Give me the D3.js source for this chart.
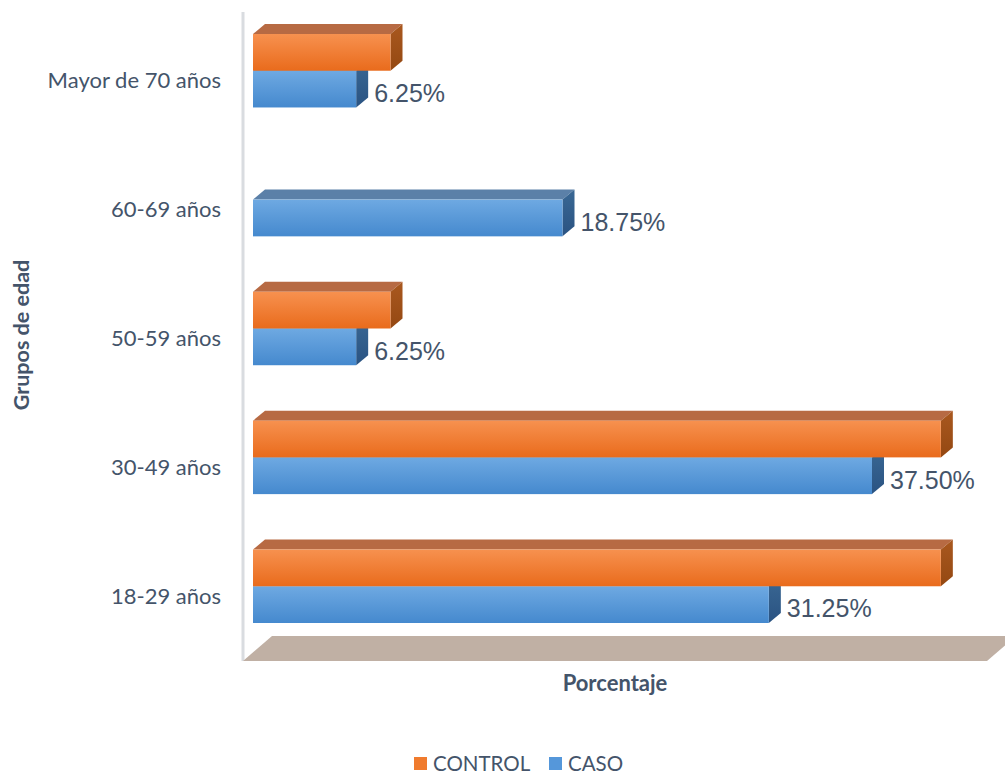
<!DOCTYPE html>
<html>
<head>
<meta charset="utf-8">
<script src="https://cdn.jsdelivr.net/npm/d3@7"></script>
<style>
  html, body { margin: 0; padding: 0; background: #fff; }
  svg { display: block; }
</style>
</head>
<body>
<svg id="chart" width="1005" height="775"></svg>
<script>
// ---- Data ----
const categories = ["Mayor de 70 años", "60-69 años", "50-59 años", "30-49 años", "18-29 años"];
const seriesNames = ["CONTROL", "CASO"];
const controlValues = [8.33, 0, 8.33, 41.67, 41.67];
const casoValues = [6.25, 18.75, 6.25, 37.50, 31.25];
const casoLabels = ["6.25%", "18.75%", "6.25%", "37.50%", "31.25%"];

const svg = d3.select("#chart");
const DX = 12, DY = 10;
const textColor = "#44546A";

const x = d3.scaleLinear().domain([0, 45]).range([253, 995.8]);
const y = d3.scaleBand().domain(categories).range([34, 623]).paddingInner(0.43).paddingOuter(0);
const ySub = d3.scaleBand().domain(seriesNames).range([0, y.bandwidth()]);

// gradients
const defs = svg.append("defs");
function grad(id, c1, c2, vertical = true) {
  const g = defs.append("linearGradient").attr("id", id)
    .attr("x1", 0).attr("y1", 0).attr("x2", vertical ? 0 : 1).attr("y2", vertical ? 1 : 0);
  g.append("stop").attr("offset", "0%").attr("stop-color", c1);
  g.append("stop").attr("offset", "100%").attr("stop-color", c2);
}
grad("gOrange", "#F7914F", "#E96B1C");
grad("gBlue", "#6EA9E2", "#4589CE");
grad("gOrangeSide", "#A9581F", "#944812");
grad("gBlueSide", "#3A6894", "#2A5382");

const styles = {
  CONTROL: { front: "url(#gOrange)", top: "#B76A43", side: "url(#gOrangeSide)" },
  CASO: { front: "url(#gBlue)", top: "#5B80A8", side: "url(#gBlueSide)" }
};

// wall line
svg.append("rect").attr("x", 241.5).attr("y", 12).attr("width", 3).attr("height", 649)
  .attr("fill", "#D9DCE0");

// floor
svg.append("polygon")
  .attr("points", [[243, 661], [272, 636], [1016, 636], [987, 661]].map(p => p.join(",")).join(" "))
  .attr("fill", "#C0B0A4");

// bars
const barsG = svg.append("g");
function drawBar(series, cat, v) {
  if (!(v > 0)) return;
  const st = styles[series];
  const x0 = x(0), x1 = x(v);
  const y0 = y(cat) + ySub(series), y1 = y0 + ySub.bandwidth();
  const g = barsG.append("g");
  g.append("polygon")
    .attr("points", [[x0, y0], [x0 + DX, y0 - DY], [x1 + DX, y0 - DY], [x1, y0]].map(p => p.join(",")).join(" "))
    .attr("fill", st.top);
  g.append("polygon")
    .attr("points", [[x1, y0], [x1 + DX, y0 - DY], [x1 + DX, y1 - DY], [x1, y1]].map(p => p.join(",")).join(" "))
    .attr("fill", st.side);
  g.append("rect").attr("x", x0).attr("y", y0).attr("width", x1 - x0).attr("height", y1 - y0)
    .attr("fill", st.front);
}
categories.forEach((c, i) => {
  drawBar("CASO", c, casoValues[i]);
  drawBar("CONTROL", c, controlValues[i]);
});

// value labels (CASO)
svg.append("g").selectAll("text").data(categories).join("text")
  .attr("x", (d, i) => x(casoValues[i]) + 18)
  .attr("y", d => y(d) + ySub("CASO") + ySub.bandwidth() / 2 + 4)
  .attr("dy", "0.35em")
  .attr("font-family", "'Liberation Sans', Arial, sans-serif")
  .attr("font-size", 25)
  .attr("fill", textColor)
  .text((d, i) => casoLabels[i]);

// category labels
svg.append("g").selectAll("text").data(categories).join("text")
  .attr("x", 221)
  .attr("y", d => y(d) + y.bandwidth() / 2 + 10)
  .attr("dy", "0.35em")
  .attr("text-anchor", "end")
  .attr("font-family", "Lato, sans-serif")
  .attr("font-size", 22)
  .attr("fill", textColor)
  .text(d => d);

// axis titles
svg.append("text").attr("x", 615).attr("y", 683).attr("dy", "0.35em")
  .attr("text-anchor", "middle").attr("font-family", "Lato, sans-serif")
  .attr("font-weight", "bold").attr("font-size", 22).attr("fill", textColor)
  .text("Porcentaje");
svg.append("text").attr("transform", "translate(21,335) rotate(-90)").attr("dy", "0.35em")
  .attr("text-anchor", "middle").attr("font-family", "Lato, sans-serif")
  .attr("font-weight", "bold").attr("font-size", 21.5).attr("fill", textColor)
  .text("Grupos de edad");

// legend
const legendItems = [
  { name: "CONTROL", color: "#F07B2E", x: 414 },
  { name: "CASO", color: "#5597DA", x: 549 }
];
const lg = svg.append("g").selectAll("g").data(legendItems).join("g")
  .attr("transform", d => `translate(${d.x},757)`);
lg.append("rect").attr("width", 13).attr("height", 13).attr("fill", d => d.color);
lg.append("text").attr("x", 19).attr("y", 7).attr("dy", "0.35em")
  .attr("font-family", "Lato, sans-serif").attr("font-size", 20.5).attr("fill", textColor)
  .text(d => d.name);
</script>
</body>
</html>
